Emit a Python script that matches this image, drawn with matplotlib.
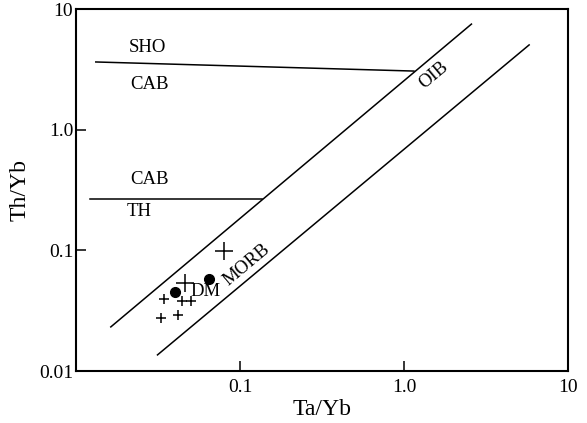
import matplotlib
matplotlib.use('Agg')
from matplotlib import pyplot as plt

plt.rcParams['font.family'] = 'Liberation Serif'

# boundary lines (Ta/Yb, Th/Yb)
sho_cab_x = [0.0132, 1.15]
sho_cab_y = [3.64, 3.06]
cab_th_x = [0.0122, 0.136]
cab_th_y = [0.267, 0.267]
oib_x = [0.0163, 2.58]
oib_y = [0.0232, 7.5]
morb_x = [0.0314, 5.8]
morb_y = [0.0136, 5.04]

# samples
small_x = [0.0346, 0.0445, 0.0505, 0.0332, 0.0421]
small_y = [0.0395, 0.0381, 0.0381, 0.0275, 0.0292]
big_x = [0.0464, 0.080]
big_y = [0.0537, 0.0988]
dot_x = [0.0404, 0.0649]
dot_y = [0.0452, 0.058]

fig = plt.figure(figsize=(5.87, 4.23), dpi=100)
ax = fig.add_axes([0.1295, 0.1229, 0.838, 0.8558])
ax.set_xscale('log')
ax.set_yscale('log')
ax.set_xlim(0.0104, 10)
ax.set_ylim(0.01, 10)

lw = 1.1
ax.plot(sho_cab_x, sho_cab_y, color='black', lw=lw)
ax.plot(cab_th_x, cab_th_y, color='black', lw=lw)
ax.plot(oib_x, oib_y, color='black', lw=lw)
ax.plot(morb_x, morb_y, color='black', lw=lw)

ax.plot(small_x, small_y, '+', color='black', ms=7, mew=1.1)
ax.plot(big_x, big_y, '+', color='black', ms=13, mew=1.1)
ax.plot(dot_x, dot_y, 'o', color='black', ms=7)

fs = 13.5
ax.text(0.0273, 4.84, 'SHO', fontsize=fs, ha='center', va='center')
ax.text(0.028, 2.39, 'CAB', fontsize=fs, ha='center', va='center')
ax.text(0.028, 0.383, 'CAB', fontsize=fs, ha='center', va='center')
ax.text(0.0244, 0.208, 'TH', fontsize=fs, ha='center', va='center')
ax.text(1.52, 2.84, 'OIB', fontsize=fs, ha='center', va='center', rotation=40, rotation_mode='anchor')
ax.text(0.110, 0.0757, 'MORB', fontsize=fs, ha='center', va='center', rotation=40, rotation_mode='anchor')
ax.text(0.0614, 0.0452, 'DM', fontsize=fs, ha='center', va='center')

ax.set_xticks([0.01, 0.1, 1, 10])
ax.set_xticklabels(['', '0.1', '1.0', '10'])
ax.set_yticks([0.01, 0.1, 1, 10])
ax.set_yticklabels(['0.01', '0.1', '1.0', '10'])
ax.minorticks_off()
ax.tick_params(direction='in', length=7, width=1.1, labelsize=14)
ax.tick_params(axis='y', pad=2)
ax.tick_params(axis='x', pad=6)
for s in ax.spines.values():
    s.set_linewidth(1.5)

ax.set_xlabel('Ta/Yb', fontsize=17, labelpad=2)
ax.set_ylabel('Th/Yb', fontsize=17, labelpad=6)

plt.savefig('out.png', dpi=100)
